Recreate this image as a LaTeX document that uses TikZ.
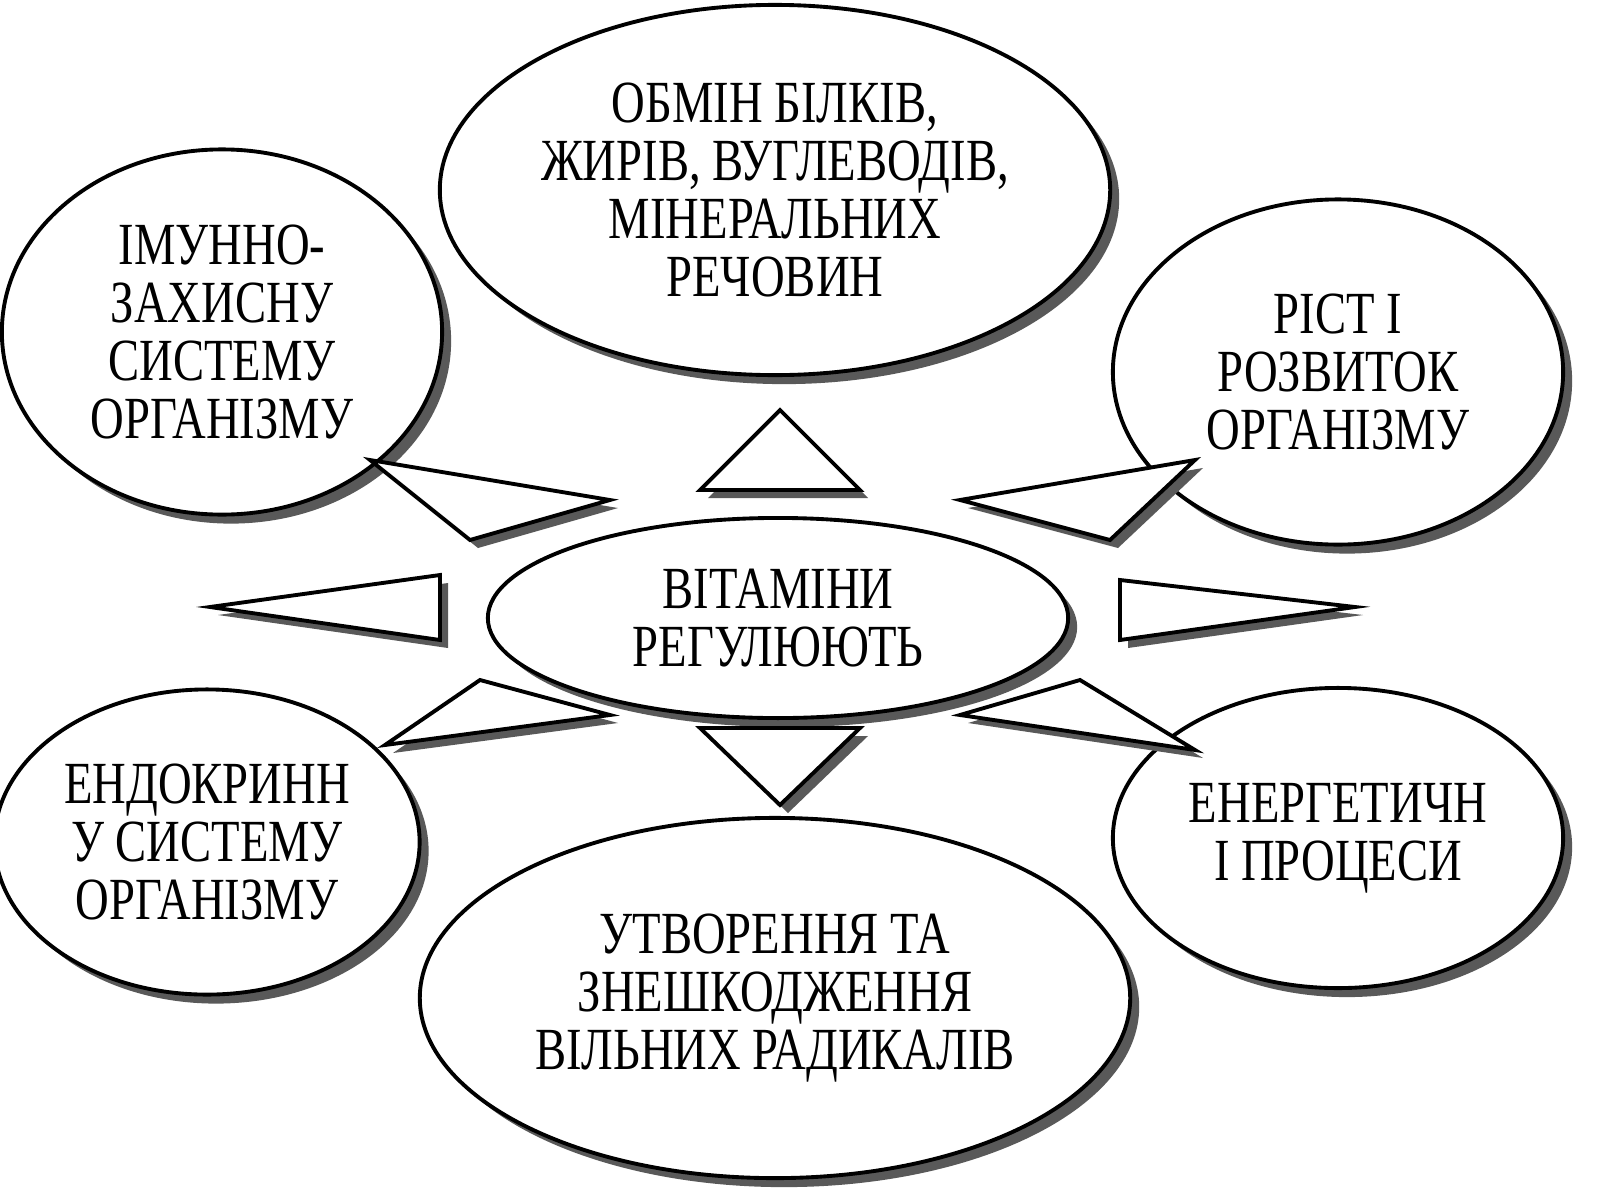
\documentclass[tikz,border=0pt]{standalone}
\usepackage{fontspec}
\setmainfont{Liberation Serif}[FakeStretch=0.78]
\usetikzlibrary{shapes.geometric,shadows}
\tikzset{
  blob/.style={ellipse, draw=black, line width=1.1pt, fill=white, align=center,
    inner sep=0pt, font=\fontsize{17}{16.5}\selectfont,
    drop shadow={shadow xshift=0.09cm, shadow yshift=-0.09cm, fill=black!65, opacity=1}},
  wedge/.style={draw=black, line width=1.1pt, fill=white},
  wedgeshade/.style={fill=black!65}
}
\begin{document}
\begin{tikzpicture}[x=0.01cm, y=-0.01cm]
\useasboundingbox (0,0) rectangle (1600,1200);
% ellipses
\node[blob, minimum width=6.7cm, minimum height=3.7cm] (metab) at (775,190)
  {ОБМІН БІЛКІВ,\\ЖИРІВ, ВУГЛЕВОДІВ,\\МІНЕРАЛЬНИХ\\РЕЧОВИН};
\node[blob, minimum width=4.4cm, minimum height=3.65cm] (immun) at (222,332)
  {ІМУННО-\\ЗАХИСНУ\\СИСТЕМУ\\ОРГАНІЗМУ};
\node[blob, minimum width=4.5cm, minimum height=3.45cm] (grow) at (1338,372)
  {РІСТ І\\РОЗВИТОК\\ОРГАНІЗМУ};
\node[blob, minimum width=5.8cm, minimum height=2cm] (vit) at (778,618)
  {ВІТАМІНИ\\РЕГУЛЮЮТЬ};
\node[blob, minimum width=4.25cm, minimum height=3.05cm] (endo) at (207,842)
  {ЕНДОКРИНН\\У СИСТЕМУ\\ОРГАНІЗМУ};
\node[blob, minimum width=7.1cm, minimum height=3.6cm] (radic) at (775,998)
  {УТВОРЕННЯ ТА\\ЗНЕШКОДЖЕННЯ\\ВІЛЬНИХ РАДИКАЛІВ};
\node[blob, minimum width=4.5cm, minimum height=3cm] (energy) at (1338,838)
  {ЕНЕРГЕТИЧН\\І ПРОЦЕСИ};
% wedges between centre and outer ellipses
\foreach \ax/\ay/\bx/\by/\cx/\cy in {700/490/860/490/780/410, 700/728/860/728/780/805,
  470/540/610/500/370/460, 960/500/1110/540/1195/460,
  440/575/440/640/210/607, 1120/580/1120/640/1355/607,
  480/680/610/715/385/745, 960/715/1080/680/1195/750}{
  \fill[wedgeshade] (\ax+8,\ay+8) -- (\bx+8,\by+8) -- (\cx+8,\cy+8) -- cycle;
  \draw[wedge] (\ax,\ay) -- (\bx,\by) -- (\cx,\cy) -- cycle;
}
\end{tikzpicture}
\end{document}
